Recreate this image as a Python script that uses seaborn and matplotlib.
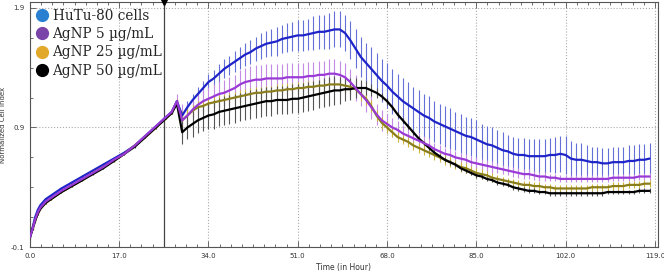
import matplotlib
matplotlib.use("Agg")
import matplotlib.pyplot as plt
from matplotlib.lines import Line2D
from matplotlib.ticker import AutoMinorLocator, FixedLocator, MultipleLocator
import numpy as np
import pandas as pd
import seaborn as sns

# sampling times (hours)
hours = [0, 0.5, 1, 1.5, 2, 3, 4, 6, 8, 10, 12, 14, 16, 18, 20, 22, 24, 26, 27, 28,
         29, 30, 31, 32, 33, 34, 35, 36, 37, 38, 39, 40, 41, 42, 43, 44, 45, 46, 47, 48,
         49, 50, 51, 52, 53, 54, 55, 56, 57, 58, 59, 60, 61, 62, 63, 64, 65, 66, 67, 68,
         69, 70, 71, 72, 73, 74, 75, 76, 77, 78, 79, 80, 81, 82, 83, 84, 85, 86, 87, 88,
         89, 90, 91, 92, 93, 94, 95, 96, 97, 98, 99, 100, 101, 102, 103, 104, 105, 106, 107, 108,
         109, 110, 111, 112, 113, 114, 115, 116, 117, 118]

groups = ["HuTu-80 cells", "AgNP 5 \u00b5g/mL", "AgNP 25 \u00b5g/mL", "AgNP 50 \u00b5g/mL"]

hutu = [-0.02, 0.06, 0.15, 0.21, 0.25, 0.30, 0.33, 0.39, 0.44, 0.49, 0.54, 0.59, 0.64, 0.69, 0.75, 0.83, 0.91, 0.99, 1.03, 1.12,
        1.00, 1.07, 1.13, 1.18, 1.23, 1.28, 1.31, 1.35, 1.39, 1.42,
        1.45, 1.48, 1.51, 1.53, 1.56, 1.58, 1.60, 1.61, 1.62, 1.64,
        1.65, 1.66, 1.67, 1.67, 1.68, 1.69, 1.70, 1.70, 1.71, 1.72,
        1.72, 1.69, 1.63, 1.56, 1.49, 1.44, 1.39, 1.34, 1.29, 1.25,
        1.20, 1.16, 1.12, 1.09, 1.06, 1.03, 1.00, 0.98, 0.95, 0.93,
        0.91, 0.89, 0.87, 0.85, 0.83, 0.82, 0.80, 0.78, 0.76, 0.75,
        0.73, 0.71, 0.70, 0.68, 0.67, 0.67, 0.66, 0.66, 0.66, 0.66,
        0.67, 0.67, 0.68, 0.67, 0.64, 0.63, 0.63, 0.62, 0.61, 0.61,
        0.60, 0.60, 0.61, 0.61, 0.61, 0.62, 0.62, 0.63, 0.63, 0.64]
ag5 = [-0.02, 0.05, 0.13, 0.19, 0.23, 0.28, 0.31, 0.37, 0.42, 0.47, 0.52, 0.57, 0.63, 0.68, 0.75, 0.83, 0.91, 0.99, 1.03, 1.12,
       0.96, 1.00, 1.05, 1.09, 1.12, 1.14, 1.16, 1.18, 1.19, 1.21,
       1.23, 1.26, 1.28, 1.29, 1.30, 1.30, 1.31, 1.31, 1.31, 1.31,
       1.32, 1.32, 1.32, 1.32, 1.33, 1.33, 1.34, 1.34, 1.35, 1.35,
       1.34, 1.32, 1.28, 1.23, 1.18, 1.13, 1.07, 1.01, 0.96, 0.93,
       0.90, 0.88, 0.85, 0.83, 0.81, 0.79, 0.77, 0.75, 0.72, 0.70,
       0.68, 0.67, 0.65, 0.64, 0.63, 0.61, 0.60, 0.59, 0.58, 0.57,
       0.56, 0.55, 0.54, 0.53, 0.52, 0.51, 0.51, 0.50, 0.49, 0.49,
       0.48, 0.48, 0.47, 0.47, 0.47, 0.47, 0.47, 0.47, 0.47, 0.47,
       0.47, 0.47, 0.48, 0.48, 0.48, 0.48, 0.48, 0.49, 0.49, 0.49]
ag25 = [-0.02, 0.05, 0.12, 0.18, 0.22, 0.27, 0.30, 0.36, 0.41, 0.46, 0.52, 0.57, 0.62, 0.68, 0.75, 0.82, 0.90, 0.98, 1.02, 1.11,
        0.96, 1.00, 1.04, 1.07, 1.08, 1.10, 1.11, 1.12, 1.13, 1.14,
        1.15, 1.16, 1.17, 1.18, 1.19, 1.19, 1.20, 1.20, 1.21, 1.21,
        1.22, 1.22, 1.23, 1.23, 1.24, 1.24, 1.25, 1.25, 1.26, 1.26,
        1.26, 1.25, 1.24, 1.22, 1.18, 1.14, 1.08, 1.00, 0.94, 0.90,
        0.86, 0.82, 0.80, 0.78, 0.75, 0.73, 0.71, 0.69, 0.67, 0.65,
        0.63, 0.61, 0.59, 0.57, 0.56, 0.54, 0.52, 0.51, 0.50, 0.48,
        0.47, 0.46, 0.45, 0.44, 0.43, 0.42, 0.42, 0.41, 0.41, 0.40,
        0.40, 0.39, 0.39, 0.39, 0.39, 0.39, 0.39, 0.39, 0.40, 0.40,
        0.40, 0.40, 0.41, 0.41, 0.41, 0.42, 0.42, 0.42, 0.43, 0.43]
ag50 = [-0.02, 0.05, 0.12, 0.18, 0.22, 0.27, 0.30, 0.36, 0.41, 0.46, 0.51, 0.56, 0.62, 0.68, 0.74, 0.82, 0.90, 0.98, 1.02, 1.10,
        0.86, 0.90, 0.93, 0.96, 0.98, 1.00, 1.01, 1.03, 1.04, 1.05,
        1.06, 1.07, 1.08, 1.09, 1.10, 1.11, 1.12, 1.12, 1.13, 1.13,
        1.13, 1.14, 1.14, 1.15, 1.16, 1.17, 1.18, 1.19, 1.20, 1.21,
        1.21, 1.22, 1.22, 1.23, 1.23, 1.23, 1.21, 1.19, 1.16, 1.12,
        1.07, 1.01, 0.96, 0.91, 0.86, 0.81, 0.77, 0.73, 0.69, 0.66,
        0.63, 0.61, 0.59, 0.56, 0.54, 0.52, 0.50, 0.49, 0.47, 0.46,
        0.44, 0.43, 0.42, 0.40, 0.39, 0.38, 0.37, 0.37, 0.36, 0.36,
        0.35, 0.35, 0.35, 0.35, 0.35, 0.35, 0.35, 0.35, 0.35, 0.35,
        0.35, 0.36, 0.36, 0.36, 0.36, 0.36, 0.36, 0.37, 0.37, 0.37]

# standard deviations
hutu_sd = [0.01, 0.01, 0.01, 0.01, 0.01, 0.01, 0.01, 0.01, 0.01, 0.01, 0.01, 0.01, 0.01, 0.01, 0.01, 0.01, 0.01, 0.01, 0.01, 0.02,
           0.04, 0.05, 0.05, 0.06, 0.06, 0.07, 0.07, 0.08, 0.08, 0.08,
           0.09, 0.09, 0.10, 0.10, 0.10, 0.11, 0.11, 0.11, 0.12, 0.12,
           0.12, 0.12, 0.13, 0.13, 0.13, 0.14, 0.14, 0.14, 0.15, 0.15,
           0.15, 0.15, 0.16, 0.16, 0.17, 0.17, 0.18, 0.18, 0.18, 0.19,
           0.19, 0.19, 0.19, 0.19, 0.18, 0.18, 0.18, 0.18, 0.17, 0.17,
           0.17, 0.17, 0.16, 0.16, 0.16, 0.16, 0.16, 0.15, 0.15, 0.15,
           0.15, 0.15, 0.14, 0.14, 0.14, 0.14, 0.14, 0.14, 0.14, 0.14,
           0.14, 0.15, 0.15, 0.16, 0.15, 0.14, 0.14, 0.13, 0.13, 0.13,
           0.13, 0.13, 0.13, 0.13, 0.13, 0.13, 0.13, 0.13, 0.13, 0.13]
ag5_sd = [0.01, 0.01, 0.01, 0.01, 0.01, 0.01, 0.01, 0.01, 0.01, 0.01, 0.01, 0.01, 0.01, 0.01, 0.01, 0.01, 0.01, 0.01, 0.02, 0.06,
          0.14, 0.10, 0.09, 0.09, 0.10, 0.10, 0.10, 0.11, 0.11, 0.11,
          0.11, 0.12, 0.12, 0.12, 0.12, 0.12, 0.12, 0.12, 0.12, 0.12,
          0.12, 0.12, 0.12, 0.12, 0.12, 0.12, 0.12, 0.12, 0.12, 0.12,
          0.12, 0.12, 0.11, 0.11, 0.10, 0.10, 0.10, 0.09, 0.09, 0.08,
          0.08, 0.07, 0.07, 0.07, 0.06, 0.06, 0.06, 0.06, 0.05, 0.05,
          0.05, 0.05, 0.05, 0.05, 0.05, 0.05, 0.05, 0.05, 0.05, 0.05,
          0.04, 0.04, 0.04, 0.04, 0.04, 0.04, 0.04, 0.04, 0.04, 0.04,
          0.03, 0.03, 0.03, 0.03, 0.03, 0.03, 0.03, 0.03, 0.03, 0.03,
          0.03, 0.03, 0.03, 0.03, 0.03, 0.03, 0.03, 0.03, 0.03, 0.03]
ag25_sd = [0.01, 0.01, 0.01, 0.01, 0.01, 0.01, 0.01, 0.01, 0.01, 0.01, 0.01, 0.01, 0.01, 0.01, 0.01, 0.01, 0.01, 0.01, 0.01, 0.03,
           0.08, 0.06, 0.05, 0.05, 0.05, 0.05, 0.05, 0.05, 0.05, 0.05,
           0.05, 0.05, 0.05, 0.05, 0.05, 0.05, 0.05, 0.05, 0.05, 0.05,
           0.05, 0.05, 0.05, 0.05, 0.05, 0.05, 0.05, 0.05, 0.05, 0.05,
           0.06, 0.06, 0.06, 0.06, 0.06, 0.05, 0.05, 0.05, 0.05, 0.05,
           0.04, 0.04, 0.04, 0.04, 0.04, 0.04, 0.04, 0.04, 0.04, 0.04,
           0.04, 0.04, 0.04, 0.04, 0.04, 0.04, 0.04, 0.04, 0.04, 0.04,
           0.03, 0.03, 0.03, 0.03, 0.03, 0.03, 0.03, 0.03, 0.03, 0.03,
           0.03, 0.03, 0.03, 0.03, 0.03, 0.03, 0.03, 0.03, 0.03, 0.03,
           0.03, 0.03, 0.03, 0.03, 0.03, 0.03, 0.03, 0.03, 0.03, 0.03]
ag50_sd = [0.01, 0.01, 0.01, 0.01, 0.01, 0.01, 0.01, 0.01, 0.01, 0.01, 0.01, 0.01, 0.01, 0.01, 0.01, 0.01, 0.01, 0.01, 0.01, 0.03,
           0.10, 0.10, 0.11, 0.11, 0.11, 0.11, 0.12, 0.12, 0.12, 0.12,
           0.12, 0.12, 0.12, 0.12, 0.12, 0.12, 0.12, 0.12, 0.12, 0.12,
           0.12, 0.12, 0.12, 0.12, 0.12, 0.12, 0.12, 0.12, 0.12, 0.12,
           0.11, 0.10, 0.09, 0.08, 0.07, 0.06, 0.05, 0.04, 0.03, 0.03,
           0.02, 0.02, 0.02, 0.02, 0.02, 0.02, 0.02, 0.02, 0.02, 0.02,
           0.02, 0.02, 0.02, 0.02, 0.02, 0.02, 0.02, 0.02, 0.02, 0.02,
           0.02, 0.02, 0.02, 0.02, 0.02, 0.02, 0.02, 0.02, 0.02, 0.02,
           0.02, 0.02, 0.02, 0.02, 0.02, 0.02, 0.02, 0.02, 0.02, 0.02,
           0.02, 0.02, 0.02, 0.02, 0.02, 0.02, 0.02, 0.02, 0.02, 0.02]

treatment_hour = 25.6
x_ticks = [0.0, 17.0, 34.0, 51.0, 68.0, 85.0, 102.0, 119.0]
y_ticks = [-0.1, 0.9, 1.9]

line_colors = ["#1f24c8", "#9a3ad6", "#8a7d1c", "#000000"]
bar_colors = ["#6470d8", "#c48be6", "#cdb43a", "#555555"]
legend_colors = ["#2a80d0", "#7a44a8", "#e2a82a", "#000000"]

frames = []
for name, vals, sd in zip(groups, [hutu, ag5, ag25, ag50], [hutu_sd, ag5_sd, ag25_sd, ag50_sd]):
    frames.append(pd.DataFrame({"hour": hours, "nci": vals, "sd": sd, "group": name}))
df = pd.concat(frames, ignore_index=True)

sns.set_style("ticks")
plt.rcParams["font.family"] = ["DejaVu Sans"]

fig = plt.figure(figsize=(6.64, 2.73), dpi=100)
ax = fig.add_axes([0.045, 0.095, 0.946, 0.898])

# error bars first
for name, bc in zip(groups, bar_colors):
    d = df[df.group == name]
    ax.vlines(d.hour, d.nci - d.sd, d.nci + d.sd, colors=bc, linewidth=0.8, zorder=2)

order = [groups[0], groups[2], groups[3], groups[1]]
pal = dict(zip(groups, line_colors))
for name in order:
    sns.lineplot(data=df[df.group == name], x="hour", y="nci", color=pal[name],
                 linewidth=1.6, ax=ax, zorder=3, legend=False)

ax.axvline(treatment_hour, color="#444444", linewidth=0.9, zorder=1)
ax.plot([treatment_hour], [1.0], marker="v", color="black", markersize=4,
        transform=ax.get_xaxis_transform(), clip_on=False, zorder=5)

ax.set_xlim(0, 119.6)
ax.set_ylim(-0.1, 1.95)
ax.xaxis.set_major_locator(FixedLocator(x_ticks))
ax.xaxis.set_minor_locator(AutoMinorLocator(8))
ax.yaxis.set_major_locator(FixedLocator(y_ticks))
ax.yaxis.set_minor_locator(MultipleLocator(0.25, offset=-0.1))
ax.set_xticklabels([f"{t:.1f}" for t in x_ticks])
ax.set_yticklabels([f"{t:.1f}" for t in y_ticks])
ax.grid(True, which="major", linestyle=":", color="#aaaaaa", linewidth=0.8)
ax.tick_params(which="both", direction="in", top=True, right=False, colors="#555555",
               labelsize=5, labelcolor="#333333", width=0.6)
ax.tick_params(which="major", length=4, pad=4)
ax.tick_params(which="minor", length=2.5)
for s in ax.spines.values():
    s.set_color("#555555")
    s.set_linewidth(0.8)

ax.set_xlabel("Time (in Hour)", fontsize=5.5, color="#333333", labelpad=3)
ax.set_ylabel("Normalized Cell Index", fontsize=5, color="#333333", labelpad=3)

handles = [Line2D([], [], linestyle="none", marker="o", markersize=8.5,
                  markerfacecolor=c, markeredgecolor=c) for c in legend_colors]
ax.legend(handles, groups, loc="upper left", frameon=False,
          prop={"family": "DejaVu Serif", "size": 9.8}, handletextpad=0.15,
          labelspacing=0.32, borderaxespad=0.1, handlelength=1.2,
          bbox_to_anchor=(-0.004, 1.0))

fig.savefig("out.png", dpi=100)
